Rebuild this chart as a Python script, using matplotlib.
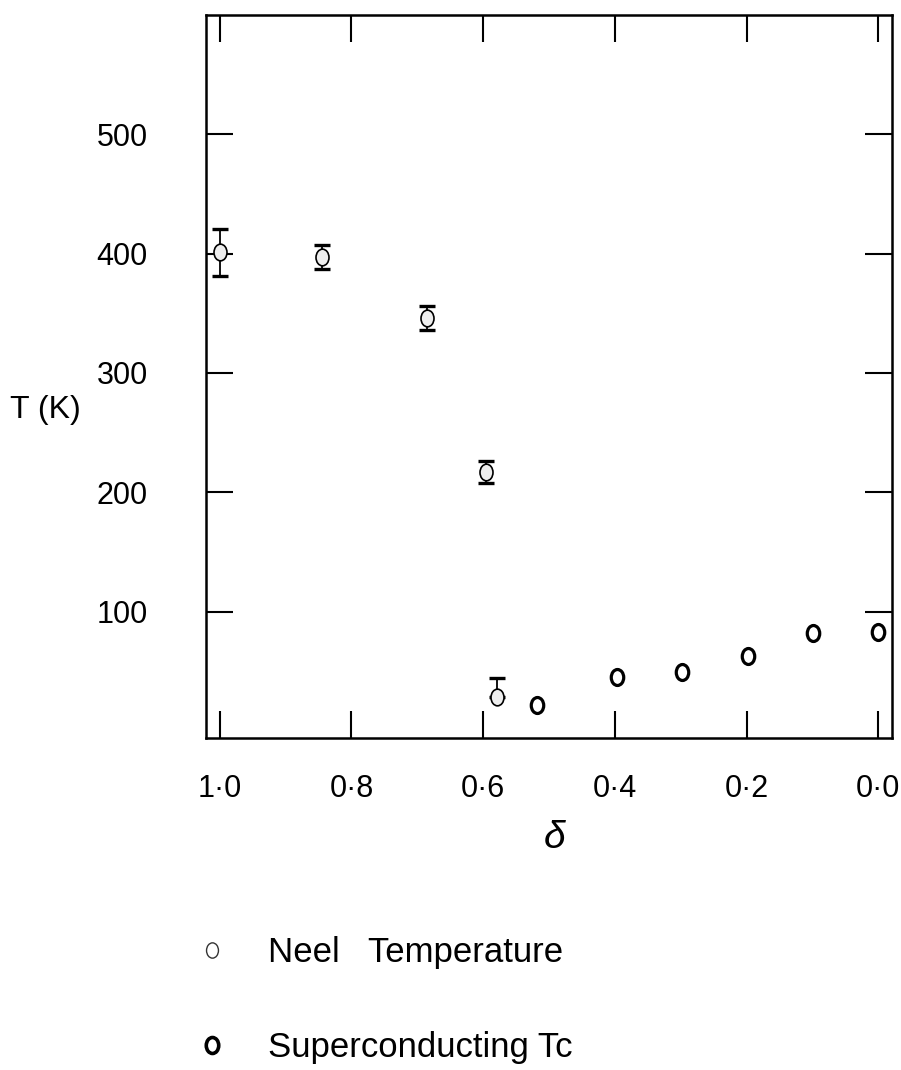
import matplotlib
matplotlib.use("Agg")
import matplotlib.pyplot as plt
from matplotlib.path import Path
from matplotlib.transforms import Affine2D
from matplotlib.lines import Line2D

plt.rcParams['font.family'] = ['Liberation Sans', 'DejaVu Sans']

# ---- data ----
neel_delta = [1.0, 0.845, 0.685, 0.596, 0.579]
neel_T = [401, 397, 346, 217, 28]
neel_err_low = [20, 10, 10, 9, 0]
neel_err_high = [20, 10, 10, 9, 16]

sc_delta = [0.518, 0.397, 0.298, 0.198, 0.099, 0.0]
sc_T = [22, 45, 49, 63, 82, 83]

x_ticks = [1.0, 0.8, 0.6, 0.4, 0.2, 0.0]
x_ticklabels = ['1·0', '0·8', '0·6', '0·4', '0·2', '0·0']
y_ticks = [100, 200, 300, 400, 500]
y_ticklabels = ['100', '200', '300', '400', '500']

# ellipse-shaped marker (hand-drawn "0" look)
circ = Path.unit_circle()
ellipse = Path(Affine2D().scale(0.78, 1.0).transform(circ.vertices), circ.codes)

W, H = 901, 1070
fig = plt.figure(figsize=(W / 100, H / 100), dpi=100)
ax = fig.add_axes([206 / W, 1 - 738 / H, 686 / W, 723 / H])

ax.errorbar(neel_delta, neel_T, yerr=[neel_err_low, neel_err_high], fmt='none',
            ecolor='black', elinewidth=1.3, capsize=6, capthick=2.4, zorder=2,
            clip_on=False)
neel_line, = ax.plot(neel_delta, neel_T, linestyle='none', marker=ellipse,
                     markersize=12, markerfacecolor='#eeeeee',
                     markeredgecolor='black', markeredgewidth=1.2, zorder=3,
                     clip_on=False, label='Neel   Temperature')
sc_line, = ax.plot(sc_delta, sc_T, linestyle='none', marker=ellipse,
                   markersize=11.5, markerfacecolor='white',
                   markeredgecolor='black', markeredgewidth=2.3, zorder=3,
                   clip_on=False, label='Superconducting Tc')

ax.set_xlim(1.021, -0.021)
ax.set_ylim(-6, 600)

ax.set_xticks(x_ticks)
ax.set_xticklabels(x_ticklabels)
ax.set_yticks(y_ticks)
ax.set_yticklabels(y_ticklabels)

ax.tick_params(axis='both', direction='in', length=19.5, width=1.5,
               top=True, right=True, labeltop=False, labelright=False,
               labelsize=22, colors='black')
ax.tick_params(axis='x', pad=26)
ax.tick_params(axis='y', pad=42)

for sp in ax.spines.values():
    sp.set_linewidth(1.8)
    sp.set_color('black')

ax.set_ylabel('T (K)', rotation=0, fontsize=23, ha='left', va='center')
ax.yaxis.set_label_coords((10 - 206) / 686, (738 - 410) / 723)
ax.set_xlabel('δ', fontsize=28, style='italic', va='center')
ax.xaxis.set_label_coords((555 - 206) / 686, (738 - 838) / 723)

# legend below the axes
h_neel = Line2D([], [], linestyle='none', marker=ellipse, markersize=11,
                markerfacecolor='white', markeredgecolor='#333333',
                markeredgewidth=1.0)
h_sc = Line2D([], [], linestyle='none', marker=ellipse, markersize=11.5,
              markerfacecolor='white', markeredgecolor='black',
              markeredgewidth=2.6)
fig.legend([h_neel, h_sc], [neel_line.get_label(), sc_line.get_label()],
           loc='center left', bbox_to_anchor=(195 / W, 1 - 1000 / H),
           frameon=False, fontsize=25, handlelength=1.0, handletextpad=1.11,
           labelspacing=1.8, borderpad=0, borderaxespad=0, numpoints=1)

fig.savefig('out.png', dpi=100, facecolor='white')
